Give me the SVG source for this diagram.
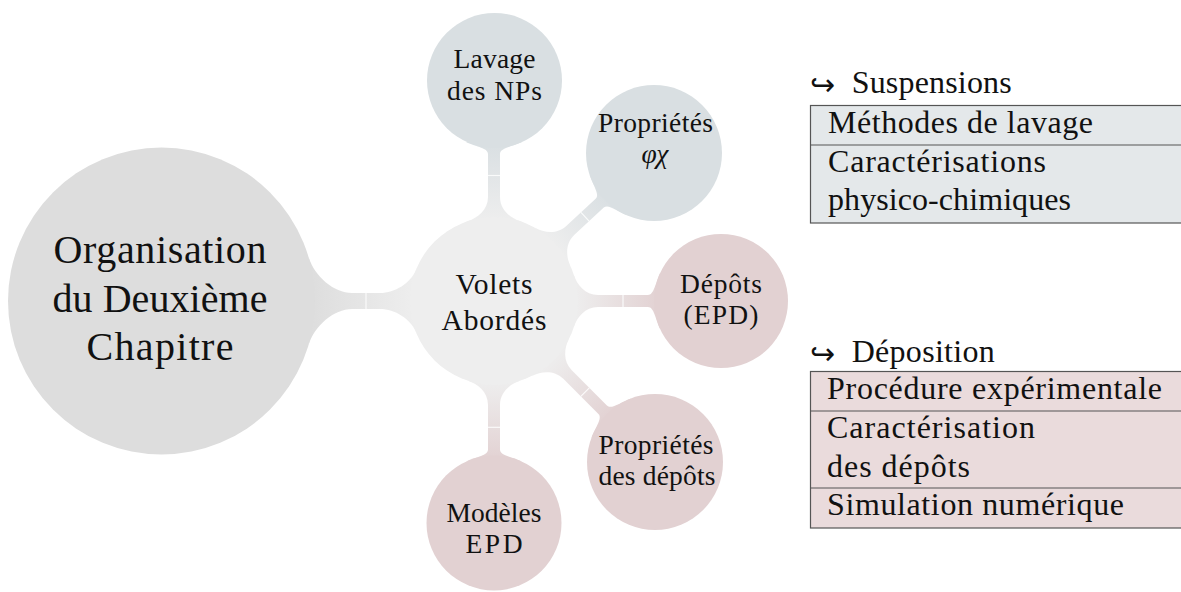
<svg xmlns="http://www.w3.org/2000/svg" width="1181" height="592" viewBox="0 0 1181 592">
<style>
text{font-family:'Liberation Serif','Times New Roman','DejaVu Serif',serif;fill:#111;}
.root{font-size:40px;}
.lvl1{font-size:29.5px;}
.lvl2{font-size:27.5px;}
.tab{font-size:32px;}
.arr{font-family:'DejaVu Sans',sans-serif;font-size:30px;}
.seam{stroke:#fff;stroke-width:1.2;opacity:0.85;}
.box{stroke:#555;stroke-width:1.2;}
</style>
<defs>
<linearGradient id="gRoot" x1="0" y1="0" x2="1" y2="0"><stop offset="0" stop-color="#dddddd"/><stop offset="1" stop-color="#eeeeee"/></linearGradient>
<linearGradient id="gBlue" x1="0" y1="0" x2="1" y2="0"><stop offset="0" stop-color="#eeeeee"/><stop offset="1" stop-color="#d9dfe2"/></linearGradient>
<linearGradient id="gPink" x1="0" y1="0" x2="1" y2="0"><stop offset="0" stop-color="#eeeeee"/><stop offset="1" stop-color="#e2d1d2"/></linearGradient>
</defs>

<g id="connectors">
  <g transform="translate(161.5,301)">
    <path fill="url(#gRoot)" d="M147.1,-44 C152.8,-24.8 172.5,-8 190.5,-8 L218.5,-8 C233.5,-8 249.2,-18 254.4,-31 L254.4,31 C249.2,18 233.5,8 218.5,8 L190.5,8 C172.5,8 152.8,24.8 147.1,44 Z"/>
    <line class="seam" x1="204.5" y1="-8" x2="204.5" y2="8"/>
  </g>
  <g transform="translate(494,301) rotate(-90)">
    <path fill="url(#gBlue)" d="M79.87,-26 C83,-16.5 91,-6 104,-6 L147,-6 C153,-6 154.1,-17.1 159.08,-28 L159.08,28 C154.1,17.1 153,6 147,6 L104,6 C91,6 83,16.5 79.87,26 Z"/>
    <line class="seam" x1="125.5" y1="-6" x2="125.5" y2="6"/>
  </g>
  <g transform="translate(494,301) rotate(-42.77)">
    <path fill="url(#gBlue)" d="M79.87,-26 C83,-16.5 91,-6 104,-6 L144,-6 C150,-6 151.1,-17.1 156.03,-28 L156.03,28 C151.1,17.1 150,6 144,6 L104,6 C91,6 83,16.5 79.87,26 Z"/>
    <line class="seam" x1="124" y1="-6" x2="124" y2="6"/>
  </g>
  <g transform="translate(494,301)">
    <path fill="url(#gPink)" d="M79.87,-26 C83,-16.5 91,-6 104,-6 L154,-6 C160,-6 161.1,-17.1 166.13,-28 L166.13,28 C161.1,17.1 160,6 154,6 L104,6 C91,6 83,16.5 79.87,26 Z"/>
    <line class="seam" x1="129" y1="-6" x2="129" y2="6"/>
  </g>
  <g transform="translate(494,301) rotate(45)">
    <path fill="url(#gPink)" d="M79.87,-26 C83,-16.5 91,-6 104,-6 L153.7,-6 C159.7,-6 160.8,-17.1 165.73,-28 L165.73,28 C160.8,17.1 159.7,6 153.7,6 L104,6 C91,6 83,16.5 79.87,26 Z"/>
    <line class="seam" x1="128.8" y1="-6" x2="128.8" y2="6"/>
  </g>
  <g transform="translate(494,301) rotate(90)">
    <path fill="url(#gPink)" d="M79.87,-26 C83,-16.5 91,-6 104,-6 L148.5,-6 C154.5,-6 155.6,-17.1 160.58,-28 L160.58,28 C155.6,17.1 154.5,6 148.5,6 L104,6 C91,6 83,16.5 79.87,26 Z"/>
    <line class="seam" x1="126.3" y1="-6" x2="126.3" y2="6"/>
  </g>
</g>

<g id="root">
  <circle cx="161.5" cy="301" r="153.5" fill="#dddddd"/>
  <text class="root" text-anchor="middle" x="160" y="263" textLength="213" lengthAdjust="spacing">Organisation</text>
  <text class="root" text-anchor="middle" x="160" y="312" textLength="215" lengthAdjust="spacing">du Deuxième</text>
  <text class="root" text-anchor="middle" x="160" y="360" textLength="147" lengthAdjust="spacing">Chapitre</text>
</g>

<g id="volets">
  <circle cx="494" cy="301" r="84" fill="#eeeeee"/>
  <text class="lvl1" text-anchor="middle" x="494" y="294" textLength="77" lengthAdjust="spacing">Volets</text>
  <text class="lvl1" text-anchor="middle" x="494" y="330" textLength="105" lengthAdjust="spacing">Abordés</text>
</g>

<g id="lavage">
  <circle cx="494.5" cy="80.5" r="67.5" fill="#d9dfe2"/>
  <text class="lvl2" text-anchor="middle" x="494.5" y="68" textLength="82" lengthAdjust="spacing">Lavage</text>
  <text class="lvl2" text-anchor="middle" x="494.5" y="100" textLength="95" lengthAdjust="spacing">des NPs</text>
</g>

<g id="proprietes-phys">
  <circle cx="654" cy="153" r="68" fill="#d9dfe2"/>
  <text class="lvl2" text-anchor="middle" x="655.5" y="132" textLength="115" lengthAdjust="spacing">Propriétés</text>
  <text class="lvl2" text-anchor="middle" x="655" y="163" font-style="italic">φχ</text>
</g>

<g id="depots">
  <circle cx="721" cy="301" r="67" fill="#e2d1d2"/>
  <text class="lvl2" text-anchor="middle" x="721" y="293" textLength="82" lengthAdjust="spacing">Dépôts</text>
  <text class="lvl2" text-anchor="middle" x="721" y="324" textLength="75" lengthAdjust="spacing">(EPD)</text>
</g>

<g id="proprietes-depots">
  <circle cx="655" cy="462" r="68" fill="#e2d1d2"/>
  <text class="lvl2" text-anchor="middle" x="656" y="454" textLength="115" lengthAdjust="spacing">Propriétés</text>
  <text class="lvl2" text-anchor="middle" x="657" y="485" textLength="117" lengthAdjust="spacing">des dépôts</text>
</g>

<g id="modeles">
  <circle cx="494" cy="523" r="67.5" fill="#e2d1d2"/>
  <text class="lvl2" text-anchor="middle" x="494" y="522" textLength="95" lengthAdjust="spacing">Modèles</text>
  <text class="lvl2" text-anchor="middle" x="494" y="553" textLength="57" lengthAdjust="spacing">EPD</text>
</g>

<g id="suspensions">
  <text class="arr" x="810" y="95">↪</text>
  <text class="tab" x="851.7" y="93" textLength="160" lengthAdjust="spacing">Suspensions</text>
  <rect class="box" x="810.5" y="105.5" width="380" height="117.5" fill="#e4e8ea"/>
  <line class="box" x1="810.5" y1="145" x2="1190" y2="145"/>
  <text class="tab" x="828" y="133" textLength="265" lengthAdjust="spacing">Méthodes de lavage</text>
  <text class="tab" x="828" y="172" textLength="218" lengthAdjust="spacing">Caractérisations</text>
  <text class="tab" x="828" y="210" textLength="243" lengthAdjust="spacing">physico-chimiques</text>
</g>

<g id="deposition">
  <text class="arr" x="810" y="363.5">↪</text>
  <text class="tab" x="851.7" y="361.5" textLength="143" lengthAdjust="spacing">Déposition</text>
  <rect class="box" x="810.5" y="371.5" width="380" height="156.5" fill="#eadbdc"/>
  <line class="box" x1="810.5" y1="411" x2="1190" y2="411"/>
  <line class="box" x1="810.5" y1="488" x2="1190" y2="488"/>
  <text class="tab" x="827" y="399" textLength="335" lengthAdjust="spacing">Procédure expérimentale</text>
  <text class="tab" x="827" y="438" textLength="208" lengthAdjust="spacing">Caractérisation</text>
  <text class="tab" x="827" y="477" textLength="143" lengthAdjust="spacing">des dépôts</text>
  <text class="tab" x="827" y="515" textLength="297" lengthAdjust="spacing">Simulation numérique</text>
</g>
</svg>
